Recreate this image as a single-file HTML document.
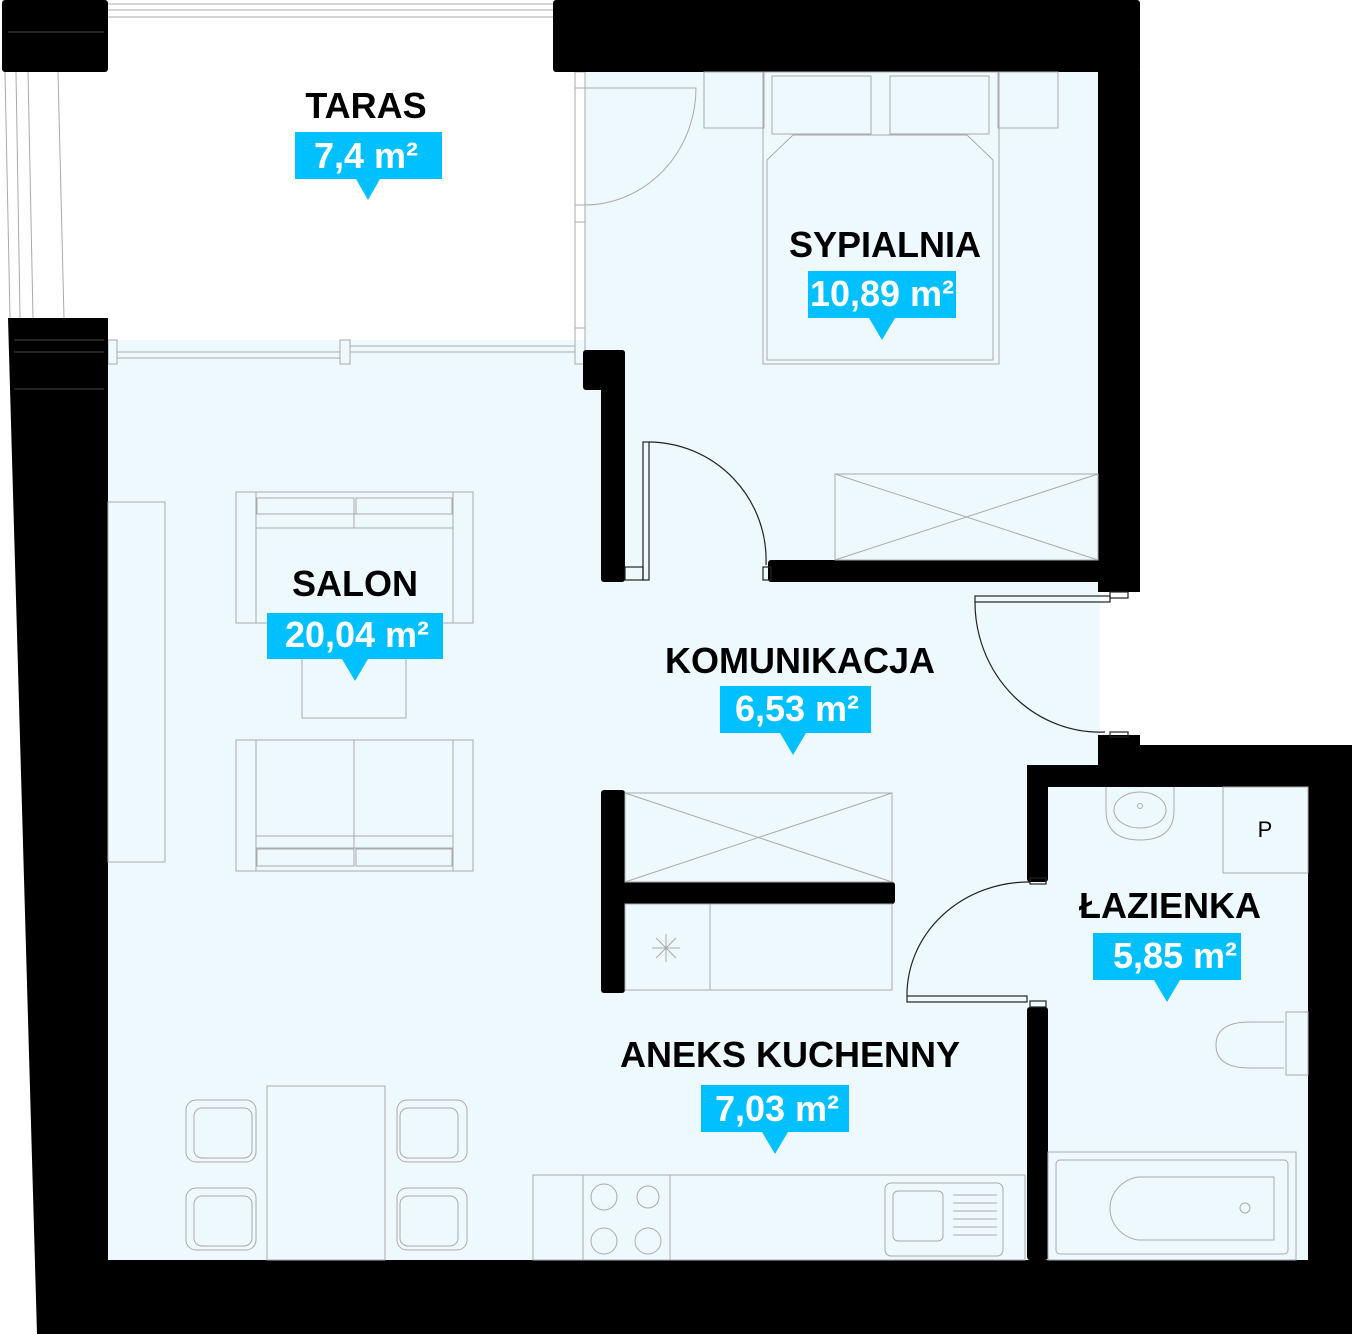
<!DOCTYPE html>
<html><head><meta charset="utf-8"><style>
html,body{margin:0;padding:0;background:#fff;}
svg{display:block}
.t{font-family:"Liberation Sans",sans-serif;font-weight:bold;font-size:36px;fill:#000;text-anchor:middle}
.a{font-family:"Liberation Sans",sans-serif;font-weight:bold;font-size:36px;fill:#fff;text-anchor:middle}
.f{fill:none;stroke:#aaa;stroke-width:1}
.d{fill:none;stroke:#222;stroke-width:1.2}
</style></head><body>
<svg width="1352" height="1334" viewBox="0 0 1352 1334" xmlns="http://www.w3.org/2000/svg">
<path d="M108 340 H585 V72 H1100 V765 H1027 V787 H1308 V1260 H108 Z" fill="#eef9fd"/>
<g class="f">
<line x1="108" y1="4" x2="553" y2="4"/><line x1="108" y1="10" x2="553" y2="10"/><line x1="108" y1="17" x2="553" y2="17"/>
<line x1="5" y1="72" x2="10" y2="318"/><line x1="16" y1="72" x2="20" y2="318"/><line x1="28" y1="72" x2="33" y2="318"/><line x1="58" y1="72" x2="64" y2="318"/>
<rect x="108" y="340" width="9" height="24"/><rect x="340" y="340" width="10" height="24"/>
<line x1="117" y1="352" x2="340" y2="352"/><line x1="117" y1="358" x2="340" y2="358"/>
<line x1="350" y1="346" x2="575" y2="346"/><line x1="350" y1="352" x2="575" y2="352"/>
<rect x="575" y="72" width="10" height="292"/>
<line x1="575" y1="88" x2="585" y2="88"/><line x1="575" y1="205" x2="585" y2="205"/><line x1="575" y1="222" x2="585" y2="222"/><line x1="575" y1="328" x2="585" y2="328"/>
</g>
<path d="M585 88 H696 A112 117 0 0 1 585 205" class="f" stroke="#888"/>
<g fill="#000">
<rect x="2" y="0" width="106" height="72" rx="3"/>
<rect x="553" y="0" width="587" height="72" rx="3"/>
<rect x="1098" y="70" width="42" height="522"/>
<path d="M8 318 H108 V1260 H1308 V745 H1352 V1334 H37 Z"/>
<rect x="1098" y="735" width="42" height="30"/>
<rect x="1098" y="745" width="254" height="30"/>
<rect x="1027" y="765" width="325" height="22"/>
<rect x="1027" y="765" width="21" height="117" rx="3"/>
<rect x="1027" y="1007" width="21" height="253" rx="3"/>
<rect x="583" y="350" width="42" height="40" rx="3"/>
<rect x="601" y="350" width="24" height="232" rx="3"/>
<rect x="768" y="560" width="372" height="22" rx="3"/>
<rect x="601" y="790" width="24" height="203" rx="3"/>
<rect x="601" y="882" width="294" height="22" rx="3"/>
</g>
<g stroke="#444" stroke-width="1">
<line x1="8" y1="32" x2="104" y2="32"/><line x1="14" y1="340" x2="104" y2="340"/><line x1="14" y1="352" x2="104" y2="352"/><line x1="14" y1="389" x2="104" y2="389"/>
</g>
<g class="d">
<rect x="643" y="442" width="6" height="138"/><path d="M649 442 A118 118 0 0 1 766 565"/>
<rect x="975" y="596" width="135" height="6"/><path d="M975 602 A125 130 0 0 0 1105 732"/>
<rect x="907" y="996" width="120" height="6"/><path d="M907 996 A122 113 0 0 1 1030 882"/>
<rect x="1110" y="592" width="18" height="6"/><rect x="1110" y="732" width="18" height="5"/>
<rect x="1030" y="878" width="16" height="6"/><rect x="1030" y="1001" width="16" height="6"/>
<rect x="625" y="567" width="18" height="13"/><rect x="763" y="567" width="8" height="13"/>
</g>
<g class="f">
<rect x="704" y="72" width="60" height="56"/><rect x="998" y="72" width="60" height="56"/>
<rect x="763" y="72" width="236" height="292"/>
<rect x="772" y="76" width="99" height="58"/><rect x="890" y="76" width="99" height="58"/>
<path d="M767 360 V160 L793 135 H967 L993 160 V360 Z"/>
<rect x="835" y="474" width="263" height="86"/>
<line x1="835" y1="474" x2="1098" y2="560"/><line x1="835" y1="560" x2="1098" y2="474"/>
<rect x="108" y="502" width="57" height="360"/>
<rect x="236" y="492" width="237" height="131"/><rect x="256" y="492" width="197" height="131"/>
<rect x="257" y="498" width="97" height="16"/><rect x="356" y="498" width="96" height="16"/>
<line x1="256" y1="514" x2="453" y2="514"/><line x1="256" y1="528" x2="453" y2="528"/><line x1="354" y1="498" x2="354" y2="528"/>
<rect x="302" y="623" width="104" height="95"/>
<rect x="236" y="740" width="237" height="131"/><rect x="256" y="740" width="197" height="131"/>
<line x1="354" y1="740" x2="354" y2="866"/><line x1="256" y1="836" x2="453" y2="836"/><line x1="256" y1="848" x2="453" y2="848"/>
<rect x="257" y="849" width="97" height="17"/><rect x="356" y="849" width="96" height="17"/>
<rect x="625" y="793" width="267" height="89"/><line x1="625" y1="793" x2="892" y2="882"/><line x1="625" y1="882" x2="892" y2="793"/>
<rect x="625" y="904" width="267" height="86"/><line x1="710" y1="904" x2="710" y2="990"/>
<path d="M652 948 H680 M666 934 V962 M656 938 L676 958 M676 938 L656 958"/>
<rect x="267" y="1086" width="118" height="174"/>
<rect x="533" y="1175" width="492" height="85"/><rect x="583" y="1175" width="87" height="85"/>
<circle cx="604" cy="1197" r="13"/><circle cx="648" cy="1197" r="11"/><circle cx="604" cy="1241" r="13"/><circle cx="648" cy="1241" r="13"/>
<rect x="885" y="1183" width="118" height="73" rx="6"/><rect x="893" y="1191" width="50" height="50" rx="5"/>
<path d="M953 1195 H997 M953 1203 H997 M953 1211 H997 M953 1219 H997 M953 1227 H997 M953 1235 H997"/>
<rect x="186" y="1100" width="70" height="62" rx="10"/><rect x="194" y="1108" width="58" height="50" rx="8"/>
<rect x="186" y="1188" width="70" height="62" rx="10"/><rect x="194" y="1196" width="58" height="50" rx="8"/>
<rect x="397" y="1100" width="70" height="62" rx="10"/><rect x="400" y="1108" width="58" height="50" rx="8"/>
<rect x="397" y="1188" width="70" height="62" rx="10"/><rect x="400" y="1196" width="58" height="50" rx="8"/>
<path d="M1106 787 V810 Q1106 840 1140 840 Q1174 840 1174 810 V787"/>
<ellipse cx="1140" cy="810" rx="26" ry="18"/><circle cx="1140" cy="806" r="2.5"/>
<rect x="1223" y="787" width="85" height="86"/>
<rect x="1048" y="1152" width="248" height="108"/><rect x="1056" y="1160" width="232" height="94" rx="4"/>
<path d="M1138 1177 H1274 V1240 H1138 A34 32 0 0 1 1138 1177 Z"/><circle cx="1245" cy="1208" r="5"/>
<path d="M1286 1012 H1308 V1075 H1286 Z M1284 1022 H1250 Q1216 1022 1216 1045 Q1216 1068 1250 1068 H1284"/>
</g>
<text x="1265" y="837" font-family="Liberation Sans,sans-serif" font-size="22" text-anchor="middle">P</text>
<g>
<text class="t" x="366" y="118">TARAS</text>
<rect x="295" y="132" width="147" height="47" fill="#00c0ff"/><path d="M356 179 L368 200 L380 179 Z" fill="#00c0ff"/>
<text class="a" x="366" y="168">7,4 m²</text>
<text class="t" x="885" y="257">SYPIALNIA</text>
<rect x="808" y="271" width="148" height="47" fill="#00c0ff"/><path d="M869 318 L882 340 L895 318 Z" fill="#00c0ff"/>
<text class="a" x="882" y="306">10,89 m²</text>
<text class="t" x="355" y="596">SALON</text>
<rect x="267" y="613" width="176" height="46" fill="#00c0ff"/><path d="M342 659 L355 681 L368 659 Z" fill="#00c0ff"/>
<text class="a" x="357" y="647">20,04 m²</text>
<text class="t" x="800" y="673">KOMUNIKACJA</text>
<rect x="720" y="686" width="151" height="47" fill="#00c0ff"/><path d="M780 733 L793 755 L806 733 Z" fill="#00c0ff"/>
<text class="a" x="797" y="721">6,53 m²</text>
<text class="t" x="1170" y="918">ŁAZIENKA</text>
<rect x="1093" y="933" width="148" height="47" fill="#00c0ff"/><path d="M1154 980 L1167 1002 L1180 980 Z" fill="#00c0ff"/>
<text class="a" x="1175" y="968">5,85 m²</text>
<text class="t" x="790" y="1067">ANEKS KUCHENNY</text>
<rect x="701" y="1085" width="148" height="47" fill="#00c0ff"/><path d="M762 1132 L775 1154 L788 1132 Z" fill="#00c0ff"/>
<text class="a" x="777" y="1121">7,03 m²</text>
</g>
</svg>
</body></html>
